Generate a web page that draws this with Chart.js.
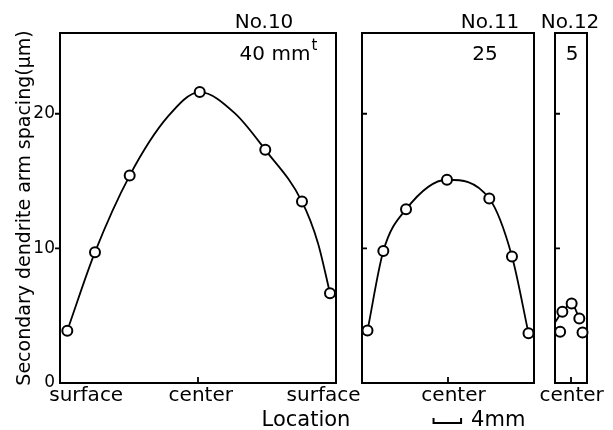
<!DOCTYPE html>
<html><head><meta charset="utf-8">
<script src="https://cdn.jsdelivr.net/npm/chart.js@4/dist/chart.umd.min.js"></script>
<style>
html,body{margin:0;padding:0;background:#fff;width:613px;height:430px;overflow:hidden}
.layer{position:absolute;left:0;top:0;width:613px;height:430px}
</style></head><body>
<div class="layer"><canvas id="c1" width="613" height="430"></canvas></div>
<div class="layer"><canvas id="c2" width="613" height="430"></canvas></div>
<div class="layer"><canvas id="c3" width="613" height="430"></canvas></div>
<script>
// ---- data (x in mm across the section, y in µm) ----
const yTickValues = [0, 10, 20];
const yMin = 0, yMax = 26;

// No.10 (40 mm thick)
const no10Width = 40;
const no10X = [1.06, 5.07, 10.1, 20.25, 29.75, 35.07, 39.13];
const no10Y = [3.89, 9.72, 15.41, 21.61, 17.32, 13.48, 6.67];
// fitted curve as traced on the figure (measured points plus traced curve points)
const no10CurveX = [1.06, 5.07, 10.1, 15.65, 20.25, 25.32, 29.75, 35.07, 37.39, 39.13];
const no10CurveY = [3.89, 9.72, 15.41, 19.80, 21.61, 20.05, 17.32, 13.48, 10.39, 6.67];
const no10Labels = ['surface', 'center', 'surface'];
const no10LabelAt = [3.8, 20.4, 38.2];

// No.11 (25 mm thick)
const no11Width = 25;
const no11X = [0.8, 3.1, 6.4, 12.35, 18.5, 21.8, 24.2];
const no11Y = [3.9, 9.8, 12.9, 15.1, 13.7, 9.4, 3.7];
const no11Labels = ['center'];
const no11LabelAt = [13.3];

// No.12 (5 mm thick)
const no12Width = 5;
const no12X = [0.8, 1.15, 2.6, 3.8, 4.3];
const no12Y = [3.8, 5.3, 5.9, 4.8, 3.75];
const no12CurveX = [0, 1.15, 2.6, 3.8];
const no12CurveY = [4.5, 5.3, 5.9, 4.8];
const no12Labels = ['center'];
const no12LabelAt = [2.6];

const scaleBarStart = 10.4, scaleBarLength = 4; // mm, in No.11 panel

const FONT = "'DejaVu Sans', sans-serif";

function pts(xs, ys) { return xs.map((x, i) => ({x: x, y: ys[i]})); }

function framePlugin(o) {
  return {
    id: 'frame' + o.id,
    beforeDatasetsDraw(chart) {
      const {ctx, chartArea: a, scales} = chart;
      ctx.save();
      ctx.strokeStyle = '#000';
      ctx.lineWidth = 2;
      ctx.strokeRect(a.left, a.top, a.right - a.left, a.bottom - a.top);
      ctx.lineWidth = 1.8;
      ctx.beginPath();
      [10, 20].forEach(v => {
        const y = scales.y.getPixelForValue(v);
        if (o.outTicks) { ctx.moveTo(a.left - 5, y); ctx.lineTo(a.left, y); }
        else { ctx.moveTo(a.left, y); ctx.lineTo(a.left + 5, y); }
      });
      const cx = scales.x.getPixelForValue(o.width / 2);
      ctx.moveTo(cx, a.bottom); ctx.lineTo(cx, a.bottom - 6);
      ctx.stroke();
      ctx.restore();
    },
    afterDraw(chart) {
      const {ctx} = chart;
      ctx.save();
      ctx.fillStyle = '#000';
      ctx.textBaseline = 'alphabetic';
      ctx.textAlign = 'center';
      ctx.font = '20px ' + FONT;
      ctx.fillText(o.title, o.titleX, 28);
      ctx.fillText(o.sub, o.subX, 60);
      if (o.sup) {
        const w = ctx.measureText(o.sub).width;
        ctx.textAlign = 'left';
        ctx.font = '15px ' + FONT;
        ctx.fillText(o.sup, o.subX + w / 2 + 1, 50);
      }
      if (o.extra) o.extra(chart, ctx);
      ctx.restore();
    }
  };
}

function panel(id, o) {
  const yAxis = o.showY ? {
    display: true, min: yMin, max: yMax,
    afterFit: s => { s.width = 50; s.paddingTop = 0; s.paddingBottom = 0; },
    afterBuildTicks: s => { s.ticks = yTickValues.map(v => ({value: v})); },
    ticks: {padding: 5, color: '#000', font: {family: FONT, size: 17}},
    grid: {display: false, drawTicks: false},
    border: {display: false},
    title: {display: true, text: 'Secondary dendrite arm spacing(\u03bcm)', color: '#000',
            font: {family: FONT, size: 19}, padding: {top: 4, bottom: 0}}
  } : {display: false, min: yMin, max: yMax};
  return new Chart(document.getElementById(id), {
    type: 'line',
    data: {datasets: [
      {data: pts(o.px, o.py), showLine: false, pointRadius: 5, pointBorderWidth: 2,
       pointBackgroundColor: '#fff', pointBorderColor: '#000', order: 0, clip: false},
      {data: pts(o.cx, o.cy), showLine: true, pointRadius: 0, borderColor: '#000',
       borderWidth: 1.8, cubicInterpolationMode: 'monotone', fill: false, order: 1, clip: false}
    ]},
    options: {
      responsive: false, animation: false, events: [],
      layout: {padding: {left: o.padLeft, right: 613 - o.right, top: 33, bottom: 0}},
      plugins: {legend: {display: false}, tooltip: {enabled: false}, title: {display: false}},
      scales: {
        x: {
          type: 'linear', min: 0, max: o.width,
          afterFit: s => { s.height = 47; s.paddingLeft = 0; s.paddingRight = 0; },
          afterBuildTicks: s => { s.ticks = o.labelAt.map(v => ({value: v})); },
          ticks: {autoSkip: false, maxRotation: 0, padding: 1, color: '#000',
                  font: {family: FONT, size: 20}, callback: (v, i) => o.labels[i]},
          grid: {display: false, drawTicks: false},
          border: {display: false}
        },
        y: yAxis
      }
    },
    plugins: [framePlugin(o)]
  });
}

panel('c1', {id: 1, width: no10Width, px: no10X, py: no10Y, cx: no10CurveX, cy: no10CurveY,
  labels: no10Labels, labelAt: no10LabelAt, showY: true, outTicks: true,
  padLeft: 10, right: 336, title: 'No.10', titleX: 264, sub: '40 mm', subX: 275, sup: 't',
  extra: (chart, ctx) => {
    ctx.font = '21px ' + FONT; ctx.textAlign = 'center';
    ctx.fillText('Location', 306, 426);
  }});

panel('c2', {id: 2, width: no11Width, px: no11X, py: no11Y, cx: no11X, cy: no11Y,
  labels: no11Labels, labelAt: no11LabelAt, showY: false, outTicks: false,
  padLeft: 362, right: 534, title: 'No.11', titleX: 490, sub: '25', subX: 485,
  extra: (chart, ctx) => {
    const xs = chart.scales.x;
    const x0 = xs.getPixelForValue(scaleBarStart), x1 = xs.getPixelForValue(scaleBarStart + scaleBarLength);
    ctx.strokeStyle = '#000'; ctx.lineWidth = 2;
    ctx.beginPath();
    ctx.moveTo(x0, 418); ctx.lineTo(x0, 423); ctx.lineTo(x1, 423); ctx.lineTo(x1, 418);
    ctx.stroke();
    ctx.font = '21px ' + FONT; ctx.textAlign = 'left';
    ctx.fillText('4mm', x1 + 10, 426);
  }});

panel('c3', {id: 3, width: no12Width, px: no12X, py: no12Y, cx: no12CurveX, cy: no12CurveY,
  labels: no12Labels, labelAt: no12LabelAt, showY: false, outTicks: false,
  padLeft: 555, right: 587, title: 'No.12', titleX: 570, sub: '5', subX: 572});
</script>
</body></html>
